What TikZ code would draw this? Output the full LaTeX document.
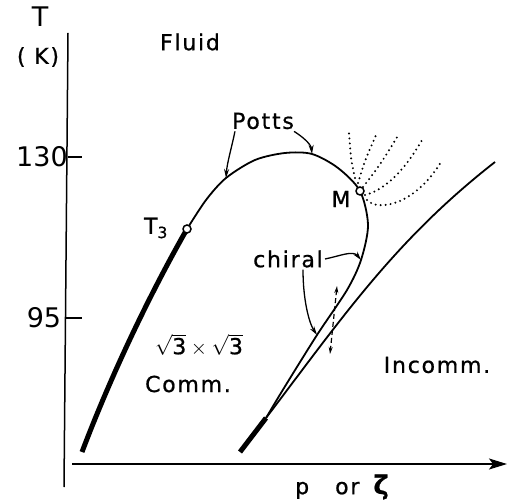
\documentclass[tikz,border=0pt]{standalone}
\usepackage{amsmath}
\usepackage{fontspec}
\setmainfont{DejaVu Sans}
\newfontfamily\lblfont[LetterSpace=8,FakeBold=0.8]{DejaVu Sans}
\usepackage{tikz}
\usetikzlibrary{arrows.meta}
\tikzset{
    lbl/.style={font=\lblfont\fontsize{22}{26}\selectfont, inner sep=2pt},
    num/.style={font=\fontsize{27}{31}\selectfont, inner sep=0pt},
    axis line/.style={line width=1.5pt},
    thin line/.style={line width=1.8pt},
    thick line/.style={line width=5pt},
    pointer/.style={line width=1.3pt, -{Stealth[length=9pt,width=5pt]}},
    fan/.style={line width=2.2pt, line cap=round, dash pattern=on 0pt off 5pt},
    knot/.style={circle, draw, fill=white, line width=1.5pt, inner sep=0pt, minimum size=8pt}
}

\begin{document}
\begin{tikzpicture}[x=1pt,y=-1pt]
    \useasboundingbox (0,0) rectangle (508,502);
    \draw[axis line] (68,33) coordinate (ytop) -- (64,487) coordinate (ybot);
    \draw[axis line, -{Stealth[length=18pt,width=11pt,inset=4pt]}] (72,464) coordinate (xo) -- (507,464) coordinate (xend);
    \draw[axis line] (67.5,157) -- (82,157);
    \draw[axis line] (66,318) -- (82,318);
    \node[num] (tlab) at (40,17) {T};
    \node[lbl] (unit) at (38,57) {( K)};
    \node[num] (t130) at (42,157) {130};
    \node[num] (t95) at (44,318) {95};
    \node[lbl] (xlab) at (342,487) {p\hspace{26pt}or\hspace{14pt}{\fontsize{26}{26}\selectfont\bfseries ζ}};

    \node[lbl] (fluid) at (190,42) {Fluid};
    \node[lbl] (potts) at (263,121) {Potts};
    \node[lbl] (chiral) at (288,259) {chiral};
    \node[lbl] (mlab) at (341,199) {M};
    \node[lbl] (tthree) at (156,228) {T\textsubscript{3}};
    \node[lbl] (sqrt) at (199,345) {$\sqrt{\text{3}}\times\sqrt{\text{3}}$};
    \node[lbl] (comm) at (188,384) {Comm.};
    \node[lbl] (incomm) at (437,365) {Incomm.};

    \path (187,229) coordinate (t3) (226,178) coordinate (p1) (312,154) coordinate (p2)
        (360,191) coordinate (m) (361,260) coordinate (c1) (317,335) coordinate (c2)
        (266,418) coordinate (j);
    \draw[thick line] (82,452) coordinate (a0) .. controls (115,365) and (155,285) .. (t3);
    \draw[thin line] plot[smooth] coordinates {(t3) (206,200) (p1) (255,160) (285,153) (p2)
        (338,168) (m) (368,225) (c1) (347,290) (c2) (284,388) (j)};
    \draw[thin line] (j) .. controls (342,318) and (395,240) .. (495,162) coordinate (iend);
    \draw[thick line] (240,452) coordinate (b0) -- (j);

    \draw[fan] (355,178) .. controls (351,160) .. (349,133);
    \draw[fan] (358,183) .. controls (365,160) .. (377,133);
    \draw[fan] (363,187) .. controls (380,165) .. (399,134);
    \draw[fan] (365,195) .. controls (385,190) and (405,170) .. (422,140);
    \draw[fan] (367,200) .. controls (378,212) and (415,205) .. (441,162);

    \node[knot] (t3c) at (t3) {};
    \node[knot] (mc) at (m) {};

    \draw[pointer] ([xshift=5pt]potts.south west) .. controls +(-3,15) and +(1,-15) .. (p1);
    \draw[pointer] ([xshift=-2pt]potts.south east) .. controls +(8,5) and +(-1,-10) .. (p2);
    \draw[pointer] (chiral.east) .. controls +(15,-3) and +(-8,-10) .. (c1);
    \draw[pointer] ([xshift=15pt]chiral.south) .. controls +(0,30) and +(-8,-12) .. (c2);
    \path (337,286) coordinate (u1) (330,354) coordinate (u2);
    \draw[line width=1.2pt, dash pattern=on 5pt off 3pt,
        {Stealth[length=7pt,width=4pt]}-{Stealth[length=7pt,width=4pt]}] (u1) -- (u2);
\end{tikzpicture}
\end{document}
